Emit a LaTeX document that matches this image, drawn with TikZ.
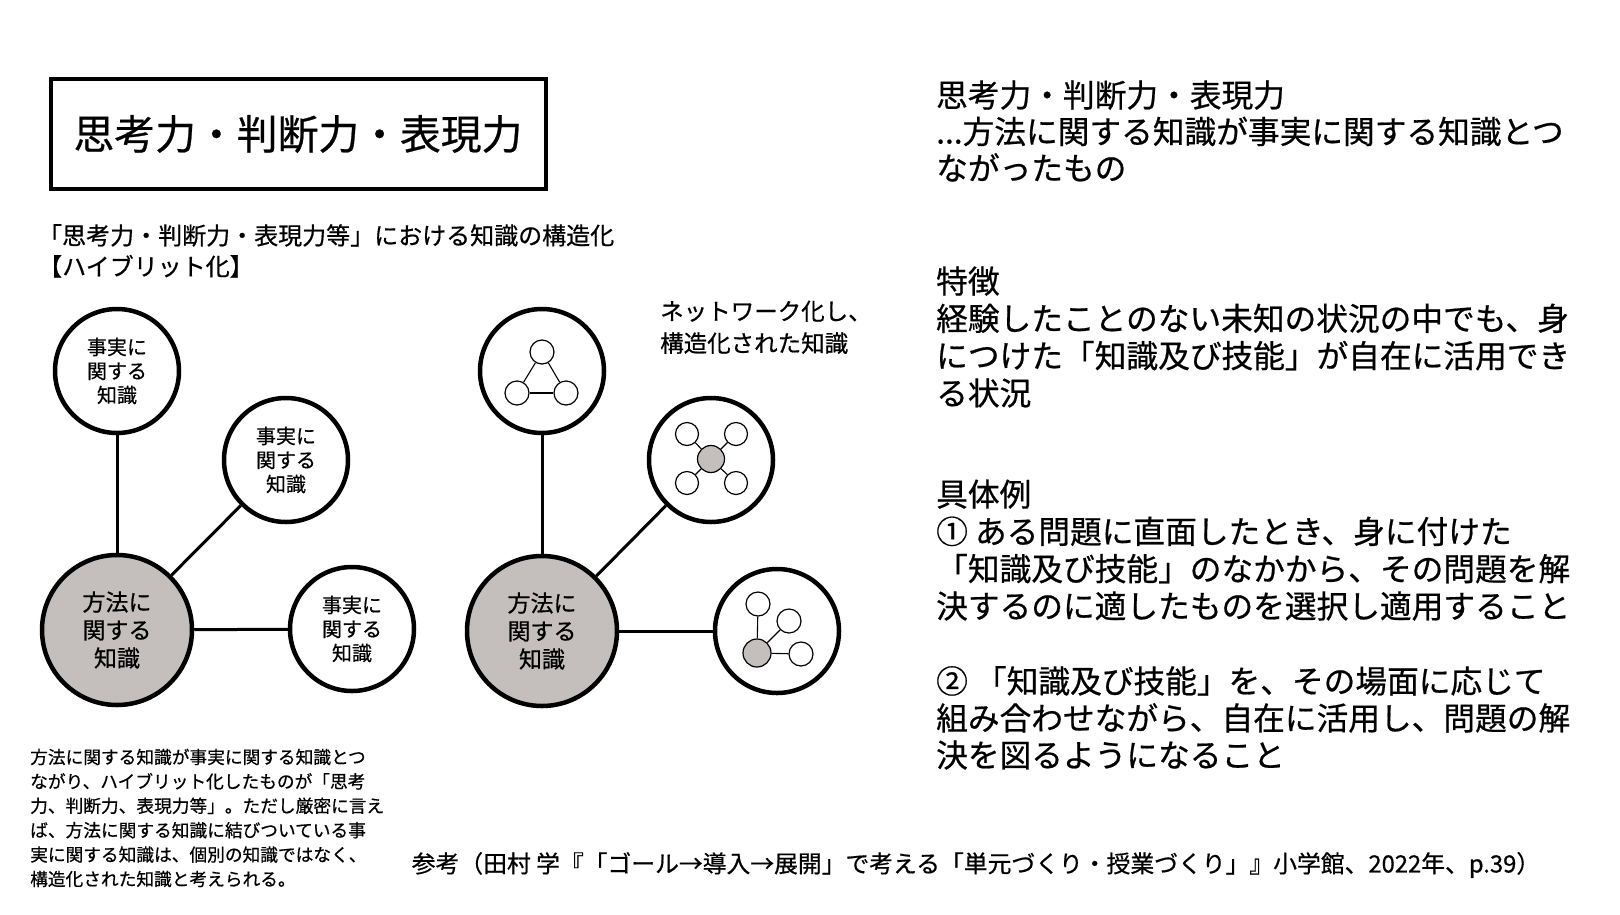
\documentclass[tikz,border=0pt]{standalone}
\usepackage{fontspec}
\setmainfont{Noto Sans CJK JP}[FakeBold=0.6]
\definecolor{kgray}{RGB}{196,191,189}
\begin{document}
\begin{tikzpicture}[x=1pt,y=-1pt,
  big/.style={circle, draw, line width=4.5pt, fill=kgray, minimum size=150pt, inner sep=0pt, align=center, font=\fontsize{23}{28}\selectfont},
  fact/.style={circle, draw, line width=4.5pt, fill=white, minimum size=124pt, inner sep=0pt, align=center, font=\fontsize{20}{24}\selectfont},
  sm/.style={circle, draw, line width=1.2pt, fill=white, minimum size=23pt, inner sep=0pt},
  smg/.style={sm, fill=kgray, minimum size=27pt},
  link/.style={line width=3pt},
  thinlink/.style={line width=1.1pt},
  txt/.style={inner sep=0pt, anchor=base west, align=left}
]
\useasboundingbox (0,0) rectangle (1620,914);
\fill[white] (0,0) rectangle (1620,914);

% title box
\node[draw, line width=4pt, minimum width=495pt, minimum height=109.5pt, inner sep=0pt,
      font=\fontsize{40.8}{48}\selectfont] (title) at (298,134) {思考力・判断力・表現力};

% (anchor = baseline of the last line)
\node[txt, font=\fontsize{24}{31}\selectfont] (sub) at (38,275.5)
  {「思考力・判断力・表現力等」における知識の構造化\\【ハイブリット化】};

% left diagram
\node[big]  (LB)  at (117,630) {方法に\\関する\\知識};
\node[fact] (LF1) at (117,371) {事実に\\関する\\知識};
\node[fact] (LF2) at (286,460) {事実に\\関する\\知識};
\node[fact] (LF3) at (352,629) {事実に\\関する\\知識};
\draw[link] (LB) -- (LF1);
\draw[link] (LB) -- (LF2);
\draw[link] (LB) -- (LF3);

% right diagram
\node[big]  (RB)  at (542,631) {方法に\\関する\\知識};
\node[fact] (RF1) at (542,371) {};
\node[fact] (RF2) at (711,460) {};
\node[fact] (RF3) at (777,631) {};
\draw[link] (RB) -- (RF1);
\draw[link] (RB) -- (RF2);
\draw[link] (RB) -- (RF3);

% inner network 1 (triangle)
\node[sm, minimum size=24pt] (a1) at (542,352) {};
\node[sm, minimum size=24pt] (a2) at (517,393) {};
\node[sm, minimum size=24pt] (a3) at (566,393) {};
\draw[thinlink] (a1) -- (a2);
\draw[thinlink] (a1) -- (a3);
\draw[thinlink] (a2) -- (a3);

% inner network 2 (star)
\node[smg] (b0) at (711,459) {};
\node[sm] (b1) at (687,434) {};
\node[sm] (b2) at (736,434) {};
\node[sm] (b3) at (687,483) {};
\node[sm] (b4) at (736,483) {};
\draw[thinlink] (b0) -- (b1);
\draw[thinlink] (b0) -- (b2);
\draw[thinlink] (b0) -- (b3);
\draw[thinlink] (b0) -- (b4);

% inner network 3
\node[smg, minimum size=28pt] (c0) at (757,653) {};
\node[sm, minimum size=24pt] (c1) at (758,604) {};
\node[sm, minimum size=24pt] (c2) at (789,621) {};
\node[sm, minimum size=24pt] (c3) at (801,654) {};
\draw[thinlink] (c0) -- (c1);
\draw[thinlink] (c0) -- (c2);
\draw[thinlink] (c0) -- (c3);

\node[txt, font=\fontsize{23.5}{32}\selectfont] (netlabel) at (660,352)
  {ネットワーク化し、\\構造化された知識};

% bottom-left paragraph
\node[txt, font=\fontsize{17.7}{24.4}\selectfont] (para) at (30,885.7)
  {方法に関する知識が事実に関する知識とつ\\
   ながり、ハイブリット化したものが「思考\\
   力、判断力、表現力等」。ただし厳密に言え\\
   ば、方法に関する知識に結びついている事\\
   実に関する知識は、個別の知識ではなく、\\
   構造化された知識と考えられる。};

% reference
\node[inner sep=0pt, font=\fontsize{23.8}{28}\selectfont] (ref) at (976,865)
  {参考（田村 学『「ゴール→導入→展開」で考える「単元づくり・授業づくり」』小学館、2022年、p.39）};

% right text
\node[txt, font=\fontsize{31.7}{36.5}\selectfont] (r1) at (936,180)
  {思考力・判断力・表現力\\...方法に関する知識が事実に関する知識とつ\\ながったもの};
\node[txt, font=\fontsize{31.7}{37.3}\selectfont] (r2) at (936,405)
  {特徴\\経験したことのない未知の状況の中でも、身\\につけた「知識及び技能」が自在に活用でき\\る状況};
\node[txt, font=\fontsize{31.7}{37.3}\selectfont] (r3) at (936,618)
  {具体例\\① ある問題に直面したとき、身に付けた\\「知識及び技能」のなかから、その問題を解\\決するのに適したものを選択し適用すること};
\node[txt, font=\fontsize{31.7}{37}\selectfont] (r4) at (936,767)
  {② 「知識及び技能」を、その場面に応じて\\組み合わせながら、自在に活用し、問題の解\\決を図るようになること};
\end{tikzpicture}
\end{document}
